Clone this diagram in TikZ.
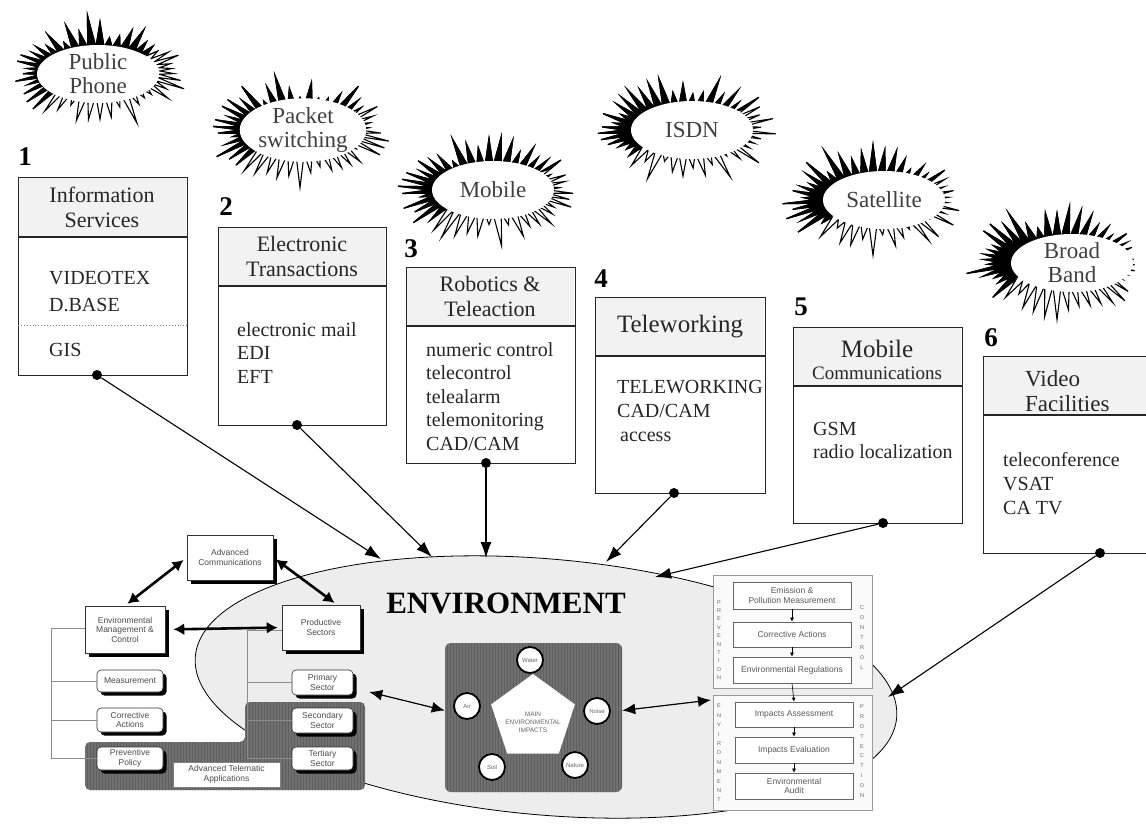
\documentclass[tikz,border=0pt]{standalone}
\usepackage{fontspec}
\setmainfont{Liberation Serif}
\setsansfont{Liberation Sans}
\usetikzlibrary{shapes.symbols,shapes.geometric,arrows.meta,shadows,patterns}
\newcommand{\infbox}[6]{%
  \node[box, anchor=north west, minimum width={#4-#2}, minimum height={#5-#3}] (#1) at (#2,#3) {};
  \fill[black!5] ({#2+0.8},{#3+0.8}) rectangle ({#4-0.8},#6);
  \draw[line width=1.4pt, black!85] (#2,#6) -- (#4,#6);}
% name, x, y, seed, text x, text y, text
\newcommand{\blast}[7]{%
  \node[burstw, random starburst=#4] (#1) at (#2,#3) {};
  \begin{scope}
    \clip ({#2-120},{#3-80}) -- ({#2+120},{#3-80}) -- ({#2+120},{#3-40}) -- ({#2+60},{#3-20}) -- ({#2-30},{#3+8}) -- ({#2-70},{#3+40}) -- ({#2-120},{#3+60}) -- cycle;
    \node[burstk, random starburst=#4] (#1k) at (#2,#3) {};
  \end{scope}
  \node[btext] (#1t) at (#5,#6) {#7};}
\begin{document}
\begin{tikzpicture}[x=1pt,y=-1pt,
 box/.style={draw=black!85, line width=1.1pt, fill=white, inner sep=0pt},
 hdr/.style={font=\fontsize{22}{25}\selectfont, align=center, inner sep=0pt, text=black!85},
 body/.style={font=\fontsize{20}{23.5}\selectfont, align=left, anchor=north west, inner sep=0pt, text=black!85},
 num/.style={font=\bfseries\fontsize{27}{27}\selectfont, inner sep=0pt},
 dot/.style={circle, fill=black, minimum size=10pt, inner sep=0pt},
 conn/.style={line width=1.1pt, -{Latex[length=16pt,width=11pt]}},
 burstbase/.style={starburst, starburst points=46, starburst point height=34pt, minimum width=188pt, minimum height=116pt, inner sep=0pt},
 burstw/.style={burstbase, fill=white, draw=black, line width=1.1pt},
 burstk/.style={burstbase, fill=black, draw=black, line width=1.1pt},
 btext/.style={ellipse, fill=white, inner sep=0pt, minimum width=122pt, minimum height=58pt, font=\fontsize{23}{24}\selectfont, align=center, text=black!75},
 sbox/.style={draw=black!80, fill=white, line width=0.6pt, font=\sffamily\fontsize{8.5}{9.5}\selectfont, text=black!70, align=center, inner sep=0pt, drop shadow={shadow xshift=3.5pt, shadow yshift=-3.5pt, fill=black, opacity=1}},
 rbox/.style={sbox, rounded corners=4pt},
 dbl/.style={line width=2.6pt, {Latex[length=11pt,width=12pt]}-{Latex[length=11pt,width=12pt]}},
 brk/.style={draw=black!45, line width=0.8pt},
 panel/.style={draw=black!40, fill=black!2, line width=0.8pt, inner sep=0pt},
 pbox/.style={draw=black!60, fill=white, line width=0.7pt, inner sep=0pt, font=\sffamily\fontsize{8.5}{9.5}\selectfont, text=black!65, align=center, minimum width=118pt},
 vlet/.style={font=\sffamily\fontsize{5.5}{8.4}\selectfont, text=black!60, align=center, inner sep=0pt},
 sarr/.style={line width=0.6pt, -{Latex[length=4pt,width=4pt]}},
 circ/.style={circle, draw=black, line width=1.8pt, fill=white, minimum size=26pt, inner sep=0pt, font=\sffamily\fontsize{6}{6}\selectfont, text=black!60},
 dbl2/.style={line width=1.2pt, {Latex[length=13pt,width=11pt]}-{Latex[length=13pt,width=11pt]}},
 darkfill/.style={fill=black!56},
 stripes/.style={pattern=vertical lines, pattern color=black!63}
]
\useasboundingbox (0,0) rectangle (1146,823);
\fill[white] (0,0) rectangle (1146,823);

% ---------- starbursts ----------
\blast{s1}{100}{71}{11}{98}{74}{Public\\Phone}
\blast{s2}{300}{130}{23}{303}{130}{Packet\\switching}
\blast{s3}{489}{190}{37}{493}{190}{Mobile}
\blast{s4}{683}{130}{41}{692}{130}{ISDN}
\blast{s5}{873}{200}{53}{884}{200}{Satellite}
\blast{s6}{1057}{262}{67}{1072}{263}{Broad\\Band}

% ---------- numbers ----------
\node[num] (n1) at (25,157) {1};
\node[num] (n2) at (226,207) {2};
\node[num] (n3) at (411,249) {3};
\node[num] (n4) at (601,279) {4};
\node[num] (n5) at (801,307) {5};
\node[num] (n6) at (991,338) {6};

% ---------- service boxes ----------
\infbox{b1}{18}{177}{187}{375}{237}
\node[hdr] (h1) at (102,207) {Information\\Services};
\draw[dotted, black!50, line width=0.9pt] (18,325) -- (187,325);
\node[body, font=\fontsize{20}{27}\selectfont] (x1) at (49,271) {VIDEOTEX\\D.BASE};
\node[body] (x1b) at (49,343) {GIS};

\infbox{b2}{218}{227}{386}{425}{286}
\node[hdr] (h2) at (302,256) {Electronic\\Transactions};
\node[body] (x2) at (237,322) {electronic mail\\EDI\\EFT};

\infbox{b3}{406}{267}{575}{463}{326}
\node[hdr] (h3) at (490,296) {Robotics \&\\Teleaction};
\node[body] (x3) at (426,342) {numeric control\\telecontrol\\telealarm\\telemonitoring\\CAD/CAM};

\infbox{b4}{595}{297}{765}{493}{356}
\node[hdr, font=\fontsize{25}{25}\selectfont] (h4) at (680,327) {Teleworking};
\node[body, font=\fontsize{20}{24}\selectfont] (x4) at (617,380) {TELEWORKING\\CAD/CAM\\\hspace*{3pt}access};

\infbox{b5}{793}{327}{962}{523}{386}
\node[hdr, font=\fontsize{25}{25}\selectfont] (h5a) at (877,349) {Mobile};
\node[hdr, font=\fontsize{19}{19}\selectfont] (h5b) at (877,373) {Communications};
\node[body] (x5) at (813,422) {GSM\\radio localization};

\infbox{b6}{983}{356}{1165}{553}{415}
\node[hdr, align=left, anchor=west, font=\fontsize{23}{25}\selectfont] (h6) at (1025,391) {Video\\Facilities};
\node[body, font=\fontsize{20}{24}\selectfont] (x6) at (1003,452) {teleconference\\VSAT\\CA TV};

% ---------- environment ellipse ----------
\draw[fill=black!7, line width=0.8pt, rotate around={-5:(546,687)}] (546,687) ellipse [x radius=352, y radius=128];
\node[font=\bfseries\fontsize{31}{31}\selectfont, inner sep=0pt] (env) at (506,603) {ENVIRONMENT};

% ---------- left cluster ----------
\fill[darkfill, rounded corners=5pt] (85,742) -- (245,742) -- (245,702) -- (365,702) -- (365,790) -- (85,790) -- cycle;
\fill[stripes, rounded corners=5pt] (85,742) -- (245,742) -- (245,702) -- (365,702) -- (365,790) -- (85,790) -- cycle;

\node[sbox, minimum width=86pt, minimum height=45pt] (ac) at (230,557.5) {Advanced\\Communications};
\node[sbox, minimum width=80pt, minimum height=47pt] (em) at (125,629.5) {Environmental\\Management \&\\Control};
\node[sbox, minimum width=78pt, minimum height=45pt] (ps) at (321,627.5) {Productive\\Sectors};
\node[rbox, minimum width=66pt, minimum height=22pt] (ms) at (130,681) {Measurement};
\node[rbox, minimum width=66pt, minimum height=24pt] (ca) at (130,720) {Corrective\\Actions};
\node[rbox, minimum width=66pt, minimum height=23pt] (pp) at (130,758.5) {Preventive\\Policy};
\node[rbox, minimum width=61pt, minimum height=25pt] (pr) at (322.5,682.5) {Primary\\Sector};
\node[rbox, minimum width=61pt, minimum height=25pt] (ss) at (322.5,720.5) {Secondary\\Sector};
\node[rbox, minimum width=61pt, minimum height=23pt] (ts) at (322.5,758.5) {Tertiary\\Sector};
\node[draw=black!50, fill=white, line width=0.5pt, minimum width=107pt, minimum height=25pt, inner sep=0pt, font=\sffamily\fontsize{8.5}{9.5}\selectfont, text=black!70, align=center] (ata) at (226.5,774.5) {Advanced Telematic\\Applications};

\coordinate (lb) at (51,628);
\coordinate (rb) at (247,630);
\draw[brk] (em.west |- lb) -- (lb) -- (lb |- pp.west) -- (pp.west);
\draw[brk] (ms.west) -- (ms.west -| lb);
\draw[brk] (ca.west) -- (ca.west -| lb);
\draw[brk] (ps.west |- rb) -- (rb) -- (rb |- ts.west) -- (ts.west);
\draw[brk] (pr.west) -- (pr.west -| rb);
\draw[brk] (ss.west) -- (ss.west -| rb);

\draw[dbl, shorten <=4pt, shorten >=3pt] (ac.west) -- (em.north);
\draw[dbl, shorten <=3pt, shorten >=3pt] (ac.east) -- ([xshift=16pt]ps.north);
\draw[dbl, shorten <=8pt, shorten >=4pt] (em.east) -- (ps.west);

% ---------- main impacts ----------
\node[darkfill, rounded corners=6pt, minimum width=177pt, minimum height=149pt, inner sep=0pt] (penreg) at (533.5,717.5) {};
\fill[stripes, rounded corners=6pt] (445,643) rectangle (622,792);
\node[regular polygon, regular polygon sides=5, fill=white, minimum size=88pt, inner sep=0pt] (pent) at (533,718) {};
\node[font=\sffamily\fontsize{6.5}{8}\selectfont, text=black!60, align=center, inner sep=0pt] (mei) at (533,722) {MAIN\\ENVIRONMENTAL\\IMPACTS};
\node[circ] (c1) at (530,660) {Water};
\node[circ] (c2) at (467,706) {Air};
\node[circ] (c3) at (597,711) {Noise};
\node[circ] (c4) at (492,767) {Soil};
\node[circ] (c5) at (575,765) {Nature};

% ---------- right panels ----------
\node[panel, anchor=north west, minimum width=159pt, minimum height=113pt] (pan1) at (713,575) {};
\node[panel, anchor=north west, minimum width=159pt, minimum height=115pt] (pan2) at (713,695) {};
\node[pbox, minimum height=27pt] (r1) at (792,595.5) {Emission \&\\Pollution Measurement};
\node[pbox, minimum height=25pt] (r2) at (792,634.5) {Corrective Actions};
\node[pbox, minimum height=26pt] (r3) at (792,670) {Environmental Regulations};
\node[pbox, minimum height=25pt] (r4) at (794,714.5) {Impacts Assessment};
\node[pbox, minimum height=26pt] (r5) at (794,750) {Impacts Evaluation};
\node[pbox, minimum height=26pt] (r6) at (794,786) {Environmental\\Audit};
\draw[sarr] (r1) -- (r2);
\draw[sarr] (r2) -- (r3);
\draw[sarr] (r3.south) -- (r4.north);
\draw[sarr] (r4) -- (r5);
\draw[sarr] (r5) -- (r6);
\node[vlet] (v1) at (719,640) {P\\R\\E\\V\\E\\N\\T\\I\\O\\N};
\node[vlet, font=\sffamily\fontsize{5.5}{10}\selectfont] (v2) at (862,638) {C\\O\\N\\T\\R\\O\\L};
\node[vlet, font=\sffamily\fontsize{5.5}{9.4}\selectfont] (v3) at (719,753) {E\\N\\V\\I\\R\\O\\N\\M\\E\\N\\T};
\node[vlet, font=\sffamily\fontsize{5.5}{9.8}\selectfont] (v4) at (862,751) {P\\R\\O\\T\\E\\C\\T\\I\\O\\N};

\draw[dbl2, shorten <=2pt] ([xshift=14pt,yshift=-9pt]pr.east) -- ([yshift=7pt]penreg.west);
\draw[dbl2] ([yshift=7pt]penreg.east) -- ([xshift=-2pt,yshift=-5pt]pan2.north west);

% ---------- dots and connectors ----------
\node[dot] (d1) at (97,375) {};
\node[dot] (d2) at (297,425) {};
\node[dot] (d3) at (486,463) {};
\node[dot] (d4) at (674,493) {};
\node[dot] (d5) at (883,523) {};
\node[dot] (d6) at (1100,553) {};
\coordinate (e1) at (381,559);
\coordinate (e2) at (432,557);
\coordinate (e3) at (486,558);
\coordinate (e4) at (606,562);
\coordinate (e5) at (655,577);
\coordinate (e6) at (888,697);
\draw[conn] (d1) -- (e1);
\draw[conn] (d2) -- (e2);
\draw[conn] (d3) -- (e3);
\draw[conn] (d4) -- (e4);
\draw[conn] (d5) -- (e5);
\draw[conn] (d6) -- (e6);
\end{tikzpicture}
\end{document}
